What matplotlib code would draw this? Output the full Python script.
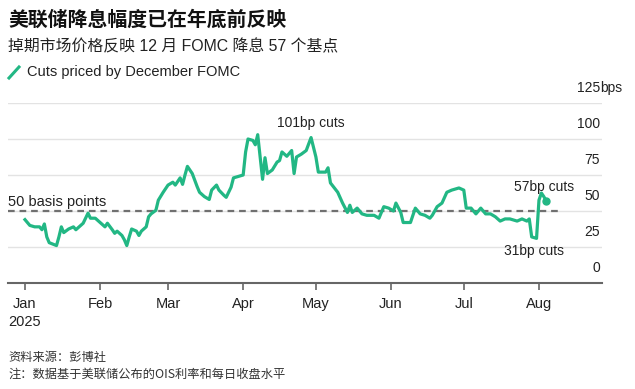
import numpy as np
import matplotlib.pyplot as plt
from matplotlib.lines import Line2D
from matplotlib.transforms import blended_transform_factory, offset_copy

plt.rcParams['font.family'] = ['Liberation Sans', 'Noto Sans CJK SC', 'DejaVu Sans']

# days since 1 Jan 2025, and cuts priced by the December FOMC (bp)
day = [0, 2, 4, 6, 7, 8, 9, 10, 13, 14, 15, 16, 18, 20, 21, 24, 26, 27, 29, 31,
       33, 34, 36, 37, 38, 40, 41, 42, 43, 44, 46, 47, 48, 50, 51, 52, 54, 55, 57, 59,
       61, 62, 64, 65, 66, 67, 69, 70, 71, 72, 74, 76, 77, 79, 80, 82, 83, 85, 86, 88,
       90, 91, 92, 94, 95, 96, 98, 99, 100, 102, 104, 105, 106, 108, 110, 111, 112, 114, 116, 118,
       120, 121, 124, 125, 126, 129, 131, 133, 134, 135, 137, 139, 141, 144, 146, 148, 150, 152, 153, 155,
       156, 159, 161, 163, 165, 167, 168, 170, 172, 174, 176, 179, 181, 182, 184, 186, 188, 190, 192, 194,
       196, 198, 200, 203, 205, 207, 208, 209, 211, 212, 213, 214, 215]
cuts = [44, 40, 39, 39, 37, 41, 32, 28, 26, 32, 39, 35, 37.5, 39, 37, 41.5, 48.5, 45, 45, 42,
        39, 41.5, 37, 34.5, 36, 33, 30, 26, 32, 37.5, 36, 33, 36, 39, 46, 48, 50.5, 57.5, 63, 68,
        70, 68, 73, 68.5, 75, 81, 76, 71.5, 67, 63, 60, 58, 64.5, 68, 64.5, 61, 59.5, 66.5, 73, 74,
        75, 91, 100, 99, 96, 103, 72, 87, 76, 78.5, 84, 85, 91, 88, 92, 76, 87.5, 89.5, 92, 101,
        87.5, 77, 77, 80, 69.5, 63, 55.5, 49, 54, 49, 52, 48, 47, 47, 45, 53, 52, 50, 55.5, 49,
        42, 42, 52, 48, 47, 45, 47, 53, 55.5, 63, 64.5, 66, 64.5, 52, 52, 48, 52, 48, 48, 46,
        43, 44.5, 44.5, 43, 44.5, 43, 44.5, 32, 31, 57.5, 62.5, 60, 57]
months = ['2025-01-01', '2025-02-01', '2025-03-01', '2025-04-01',
          '2025-05-01', '2025-06-01', '2025-07-01', '2025-08-01']
month_labels = ['Jan\n2025', 'Feb', 'Mar', 'Apr', 'May', 'Jun', 'Jul', 'Aug']
y_ticks = [0, 25, 50, 75, 100, 125]

W, H = 635, 389
green = '#22b784'
dates = np.datetime64('2025-01-01') + np.array(day).astype('timedelta64[D]')

fig = plt.figure(figsize=(W / 100, H / 100), dpi=100)
ax = fig.add_axes([8 / W, 1 - 283 / H, 594 / W, 180 / H])

for v in y_ticks[1:]:
    ax.axhline(v, color='#e3e3e3', lw=1.0, zorder=1)
ax.axhline(50, xmax=0.933, color='#707070', lw=1.6, ls=(0, (3, 2.2)), zorder=2)

ax.plot(dates, cuts, color=green, lw=2.3, zorder=3, solid_joinstyle='round')
ax.plot(dates[-1:], cuts[-1:], 'o', color=green, ms=5, zorder=3)

ax.set_ylim(0, 125)
ax.set_xlim(np.datetime64('2025-01-01') - np.timedelta64(7, 'D'),
            np.datetime64('2025-08-27'))
ax.set_xticks(np.array(months, dtype='datetime64[D]'))
ax.set_xticklabels(month_labels, fontsize=10.5, color='#222222', linespacing=1.35)
ax.set_yticks([])
for s in ['top', 'left', 'right']:
    ax.spines[s].set_visible(False)
ax.spines['bottom'].set_color('#666666')
ax.spines['bottom'].set_linewidth(1.5)
ax.tick_params(axis='x', length=5, width=1.2, color='#666666', pad=5)

# value labels above the grid lines on the right
tr = offset_copy(blended_transform_factory(ax.transAxes, ax.transData),
                 fig=fig, y=10.5, units='points')
for v in y_ticks:
    ax.text(0.9966, v, str(v), transform=tr, ha='right', va='center',
            fontsize=10, color='#222222', clip_on=False)
ax.text(0.9966, 125, 'bps', transform=tr, ha='left', va='center',
        fontsize=10, color='#222222', clip_on=False)

# annotations
ax.text(0.0, 50, '50 basis points', transform=offset_copy(
    blended_transform_factory(ax.transAxes, ax.transData), fig=fig, y=6.5, units='points'),
    ha='left', va='center', fontsize=10.5, color='#222222')
ax.text(np.datetime64('2025-04-29'), 111, '101bp cuts', ha='center', va='center',
        fontsize=10, color='#222222')
ax.text(np.datetime64('2025-08-03'), 66.5, '57bp cuts', ha='center', va='center',
        fontsize=10, color='#222222')
ax.text(np.datetime64('2025-07-30'), 22, '31bp cuts', ha='center', va='center',
        fontsize=10, color='#222222')

# title, subtitle, legend
fig.text(8 / W, 1 - 20 / H, '美联储降息幅度已在年底前反映', fontsize=14.3,
         fontweight='bold', color='#111111', va='center', ha='left')
fig.text(8 / W, 1 - 47 / H, '掉期市场价格反映 12 月 FOMC 降息 57 个基点', fontsize=11.4,
         color='#222222', va='center', ha='left')
fig.add_artist(Line2D([9 / W, 19 / W], [1 - 78 / H, 1 - 67 / H], color=green, lw=2.2))
fig.text(27 / W, 1 - 72 / H, 'Cuts priced by December FOMC', fontsize=10.5,
         color='#222222', va='center', ha='left')

# footer
fig.text(8 / W, 1 - 358 / H, '资料来源：彭博社', fontsize=8.8,
         family=['Noto Sans CJK SC'], color='#333333', va='center', ha='left')
fig.text(8 / W, 1 - 374 / H, '注：数据基于美联储公布的OIS利率和每日收盘水平', fontsize=8.8,
         family=['Noto Sans CJK SC'], color='#333333', va='center', ha='left')

fig.savefig('out.png', dpi=100, facecolor='white')
